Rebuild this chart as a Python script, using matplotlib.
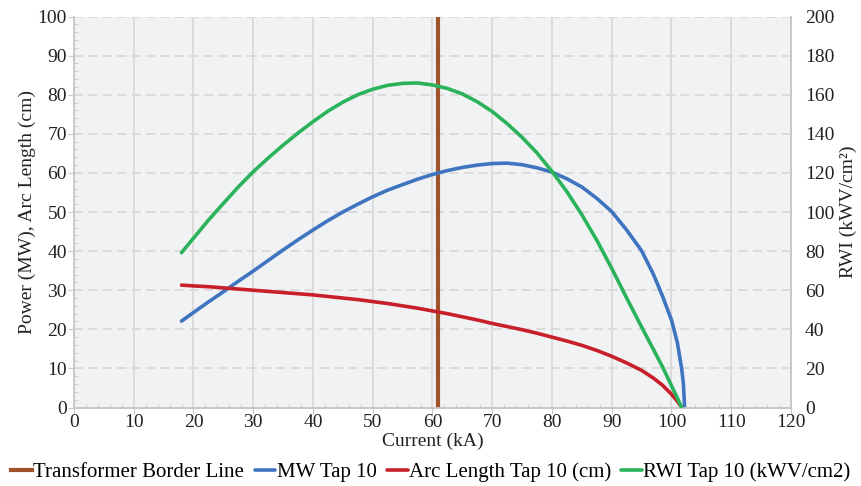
import matplotlib
matplotlib.use("Agg")
import matplotlib.pyplot as plt
import numpy as np
from matplotlib.ticker import MultipleLocator

plt.rcParams['font.family'] = ['Liberation Serif', 'DejaVu Serif']

nan = np.nan
current = [18, 20, 22.5, 25, 27.5, 30, 32.5, 35, 37.5, 40, 42.5, 45, 47.5, 50, 52.5,
           55, 57.5, 60, 62.5, 65, 67.5, 70, 72.5, 75, 77.5, 80, 82.5, 85, 87.5, 90,
           92.5, 95, 97, 98.5, 100, 101, 101.7, 102, 102.2]
mw = [22.1, 24.3, 27.0, 29.6, 32.3, 34.9, 37.6, 40.3, 42.9, 45.4, 47.8, 50.0, 52.0,
      53.9, 55.6, 57.0, 58.4, 59.6, 60.6, 61.4, 62.0, 62.4, 62.5, 62.1, 61.3, 60.2,
      58.5, 56.4, 53.5, 50.1, 45.4, 40.1, 34.0, 28.5, 22.4, 16.5, 10.0, 6.0, 0.0]
arc = [31.3, 31.1, 30.9, 30.6, 30.3, 30.0, 29.7, 29.4, 29.1, 28.8, 28.4, 28.0, 27.6,
       27.1, 26.6, 26.0, 25.4, 24.7, 24.0, 23.2, 22.4, 21.5, 20.7, 19.9, 19.0, 18.0,
       17.0, 15.9, 14.6, 13.1, 11.4, 9.5, 7.5, 5.7, 3.4, 1.6, 0.0, nan, nan]
rwi = [79.2, 86.6, 95.8, 104.4, 112.8, 120.6, 127.6, 134.2, 140.4, 146.2, 151.6,
       156.2, 160.0, 162.8, 164.8, 165.8, 166.0, 165.0, 163.2, 160.4, 156.4, 151.4,
       145.2, 138.2, 130.2, 120.8, 110.4, 98.6, 85.6, 71.2, 56.0, 41.2, 29.6, 20.8,
       11.2, 4.8, 0.0, nan, nan]
border_current = 61

series_labels = ["Transformer Border Line", "MW Tap 10", "Arc Length Tap 10 (cm)",
                 "RWI Tap 10 (kWV/cm2)"]
colors = ["#a0522d", "#3f74c1", "#c8202a", "#2bb35b"]

fig = plt.figure(figsize=(8.62, 4.86), dpi=100)
ax = fig.add_axes([0.0858, 0.1615, 0.8318, 0.8045])
ax.set_facecolor("#f1f2f4")
ax2 = ax.twinx()

ax.set_xlim(0, 120)
ax.set_ylim(0, 100)
ax2.set_ylim(0, 200)

ax.xaxis.set_major_locator(MultipleLocator(10))
ax.yaxis.set_major_locator(MultipleLocator(10))
ax.xaxis.set_minor_locator(MultipleLocator(2))
ax.yaxis.set_minor_locator(MultipleLocator(2))
ax2.yaxis.set_major_locator(MultipleLocator(20))

ax.grid(True, axis='x', which='major', color='#d9d9d9', lw=1.3, ls='-')
ax.grid(True, axis='y', which='major', color='#d9d9d9', lw=1.3, ls=(0, (5, 3)))
ax.set_axisbelow(True)

for a in (ax, ax2):
    a.spines['top'].set_visible(False)
    for s in ['left', 'bottom', 'right']:
        a.spines[s].set_color('#c8c8c8')
        a.spines[s].set_linewidth(1.3)

txt = '#222222'
ax.tick_params(axis='both', which='major', labelsize=14, length=4, color='#c8c8c8',
               pad=1, labelcolor=txt)
ax.tick_params(axis='both', which='minor', direction='in', length=3, color='#c8c8c8')
ax2.tick_params(axis='y', which='major', labelsize=14, length=0, pad=10,
                labelcolor=txt)

l0 = ax.axvline(border_current, color=colors[0], lw=3.0, zorder=3)
l1, = ax.plot(current, mw, color=colors[1], lw=2.6, solid_capstyle='round',
              solid_joinstyle='round', zorder=4)
l2, = ax.plot(current, arc, color=colors[2], lw=2.6, solid_capstyle='round',
              solid_joinstyle='round', zorder=4)
l3, = ax2.plot(current, rwi, color=colors[3], lw=2.6, solid_capstyle='round',
               solid_joinstyle='round', zorder=4)

ax.set_xlabel("Current (kA)", fontsize=14, labelpad=1, color=txt)
ax.set_ylabel("Power (MW), Arc Length (cm)", fontsize=14, labelpad=1, color=txt)
ax2.set_ylabel("RWI (kWV/cm²)", fontsize=14, labelpad=4, color=txt)

fig.legend([l0, l1, l2, l3], series_labels, loc='lower center', ncol=4,
           bbox_to_anchor=(0.5, -0.03), frameon=False, fontsize=15,
           handlelength=1.0, handletextpad=0.05, columnspacing=0.5)

fig.savefig("out.png", dpi=100)
